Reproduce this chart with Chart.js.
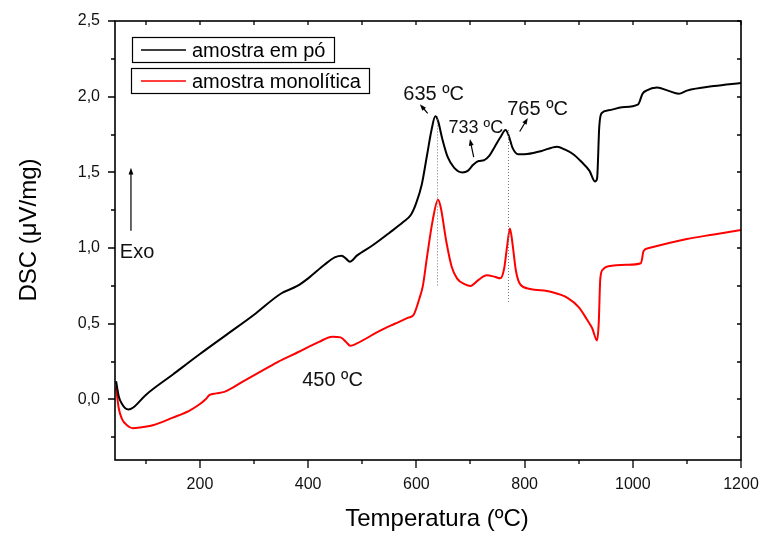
<!DOCTYPE html>
<html>
<head>
<meta charset="utf-8">
<script src="https://cdn.jsdelivr.net/npm/chart.js@4.4.0/dist/chart.umd.min.js"></script>
<style>
  html, body { margin: 0; padding: 0; background: #fff; }
  #wrap { width: 761px; height: 533px; }
</style>
</head>
<body>
<div id="wrap"><canvas id="dscChart" width="761" height="533"></canvas></div>
<script>
// DSC curves (temperature in ºC, signal in µV/mg)
const tempPo = [45, 50, 56, 62, 68, 76, 100, 150, 200, 250, 300, 350, 380, 400, 430, 450, 462, 470, 477,
  490, 520, 550, 575, 590, 600, 610, 620, 628, 635, 640, 648, 658, 670, 685, 695, 705, 715, 725, 735, 745,
  755, 765, 770, 778, 788, 800, 830, 860, 875, 890, 905, 920, 930, 934, 938, 942, 955, 980, 1010, 1018,
  1025, 1045, 1065, 1085, 1100, 1150, 1200];
const dscPo = [0.12, 0.02, -0.03, -0.058, -0.066, -0.055, 0.03, 0.165, 0.30, 0.43, 0.56, 0.70, 0.75, 0.80,
  0.89, 0.94, 0.95, 0.93, 0.91, 0.95, 1.02, 1.10, 1.17, 1.22, 1.30, 1.42, 1.62, 1.78, 1.87, 1.84, 1.72,
  1.60, 1.53, 1.50, 1.51, 1.55, 1.575, 1.58, 1.61, 1.67, 1.73, 1.78, 1.75, 1.66, 1.62, 1.62, 1.64, 1.67,
  1.65, 1.62, 1.57, 1.51, 1.44, 1.46, 1.80, 1.89, 1.91, 1.93, 1.95, 2.02, 2.04, 2.06, 2.04, 2.02, 2.04,
  2.07, 2.09];

const tempMono = [45, 50, 56, 65, 76, 90, 113, 150, 180, 200, 210, 218, 230, 245, 280, 320, 345, 380, 420,
  445, 460, 470, 478, 490, 533, 560, 585, 595, 605, 612, 620, 630, 640, 645, 655, 665, 675, 690, 700, 715,
  730, 745, 755, 762, 768, 773, 778, 784, 792, 810, 850, 880, 900, 915, 925, 934, 937, 940, 945, 955, 990,
  1015, 1020, 1030, 1100, 1150, 1200];
const dscMono = [0.08, -0.06, -0.13, -0.17, -0.19, -0.185, -0.17, -0.12, -0.075, -0.03, 0.00, 0.03, 0.04,
  0.05, 0.12, 0.20, 0.25, 0.31, 0.38, 0.415, 0.41, 0.38, 0.355, 0.37, 0.455, 0.50, 0.54, 0.56, 0.66, 0.75,
  0.95, 1.18, 1.32, 1.27, 1.05, 0.88, 0.80, 0.76, 0.75, 0.79, 0.82, 0.81, 0.80, 0.86, 1.02, 1.13, 1.02,
  0.85, 0.76, 0.73, 0.71, 0.67, 0.61, 0.53, 0.47, 0.39, 0.50, 0.80, 0.86, 0.88, 0.89, 0.90, 0.98, 1.00,
  1.06, 1.09, 1.12];

const seriesNames = ["amostra em pó", "amostra monolítica"];
const seriesColors = ["#000000", "#ff0000"];
const xTickValues = [200, 400, 600, 800, 1000, 1200];
const yTickValues = [0, 0.5, 1.0, 1.5, 2.0, 2.5];

// peak labels and arrows, in data coordinates
const notes = [
  { text: "635 ºC", x: 632, y: 1.98, size: 20 },
  { text: "733 ºC", x: 710, y: 1.76, size: 18 },
  { text: "765 ºC", x: 824, y: 1.88, size: 20 },
  { text: "450 ºC", x: 445, y: 0.092, size: 20 }
];
const arrows = [
  { from: [621, 1.89], to: [606.5, 1.95] },
  { from: [706, 1.60], to: [699, 1.72] },
  { from: [791, 1.77], to: [806, 1.86] },
  { from: [72.5, 1.115], to: [72.5, 1.53] }
];
const peakLines = [
  { x: 639, top: 1.87, bottom: 0.745 },
  { x: 769, top: 1.78, bottom: 0.63 }
];

const font = "Arial, 'Liberation Sans', sans-serif";

function toPoints(xs, ys) {
  return xs.map((t, i) => ({ x: t, y: ys[i] }));
}

function drawArrow(ctx, x1, y1, x2, y2) {
  const ang = Math.atan2(y2 - y1, x2 - x1);
  const head = 7;
  ctx.beginPath();
  ctx.moveTo(x1, y1);
  ctx.lineTo(x2 - Math.cos(ang) * head * 0.8, y2 - Math.sin(ang) * head * 0.8);
  ctx.stroke();
  ctx.beginPath();
  ctx.moveTo(x2, y2);
  ctx.lineTo(x2 - head * Math.cos(ang - 0.35), y2 - head * Math.sin(ang - 0.35));
  ctx.lineTo(x2 - head * Math.cos(ang + 0.35), y2 - head * Math.sin(ang + 0.35));
  ctx.closePath();
  ctx.fill();
}

const extras = {
  id: "extras",
  afterDatasetsDraw(chart) {
    const { ctx, scales: { x, y } } = chart;
    ctx.save();

    // dotted guide lines under the peaks
    ctx.strokeStyle = "#777";
    ctx.lineWidth = 1;
    ctx.setLineDash([1, 2]);
    peakLines.forEach(p => {
      const px = Math.round(x.getPixelForValue(p.x)) + 0.5;
      ctx.beginPath();
      ctx.moveTo(px, y.getPixelForValue(p.top));
      ctx.lineTo(px, y.getPixelForValue(p.bottom));
      ctx.stroke();
    });
    ctx.setLineDash([]);

    // peak labels
    ctx.fillStyle = "#111";
    ctx.textAlign = "center";
    ctx.textBaseline = "alphabetic";
    notes.forEach(n => {
      ctx.font = n.size + "px " + font;
      ctx.fillText(n.text, x.getPixelForValue(n.x), y.getPixelForValue(n.y));
    });
    ctx.textAlign = "left";
    ctx.font = "20px " + font;
    ctx.fillText("Exo", x.getPixelForValue(52), y.getPixelForValue(0.937));

    // arrows
    ctx.strokeStyle = "#000";
    ctx.fillStyle = "#000";
    ctx.lineWidth = 1.2;
    arrows.forEach(a => {
      drawArrow(ctx,
        x.getPixelForValue(a.from[0]), y.getPixelForValue(a.from[1]),
        x.getPixelForValue(a.to[0]), y.getPixelForValue(a.to[1]));
    });
    ctx.restore();
  },
  afterDraw(chart) {
    const { ctx, chartArea: a, scales: { x, y } } = chart;
    ctx.save();
    ctx.strokeStyle = "#000";

    // frame
    ctx.lineWidth = 1.6;
    ctx.strokeRect(a.left, a.top, a.right - a.left, a.bottom - a.top);

    // ticks: outward on bottom/left, inward on top/right
    ctx.lineWidth = 1.3;
    ctx.beginPath();
    for (let v = 100; v <= 1200; v += 100) {
      const px = Math.round(x.getPixelForValue(v));
      const len = v % 200 === 0 ? 8 : 4;
      ctx.moveTo(px, a.bottom); ctx.lineTo(px, a.bottom + len);
      ctx.moveTo(px, a.top); ctx.lineTo(px, a.top + 4);
    }
    for (let i = -1; i <= 10; i++) {
      const v = i * 0.25;
      const py = Math.round(y.getPixelForValue(v));
      const len = i % 2 === 0 ? 7 : 4;
      ctx.moveTo(a.left, py); ctx.lineTo(a.left - len, py);
      ctx.moveTo(a.right, py); ctx.lineTo(a.right - 4, py);
    }
    ctx.stroke();

    // legend boxes
    ctx.lineWidth = 1.2;
    ctx.font = "20px " + font;
    ctx.textAlign = "left";
    ctx.textBaseline = "middle";
    const boxes = [
      { x: 132, y: 37, w: 202, h: 25, ly: 50 },
      { x: 131, y: 68, w: 238, h: 25, ly: 81 }
    ];
    boxes.forEach((b, i) => {
      ctx.strokeStyle = "#000";
      ctx.strokeRect(b.x + 0.5, b.y + 0.5, b.w, b.h);
      ctx.strokeStyle = seriesColors[i];
      ctx.lineWidth = 1.5;
      ctx.beginPath();
      ctx.moveTo(141, b.ly);
      ctx.lineTo(186, b.ly);
      ctx.stroke();
      ctx.lineWidth = 1.2;
      ctx.fillStyle = "#000";
      ctx.fillText(seriesNames[i], 192, b.ly + 1);
    });

    // axis titles
    ctx.font = "24px " + font;
    ctx.textAlign = "center";
    ctx.textBaseline = "middle";
    ctx.fillText("Temperatura (ºC)", 437, 519);
    ctx.translate(29, 230);
    ctx.rotate(-Math.PI / 2);
    ctx.fillText("DSC (μV/mg)", 0, 0);
    ctx.restore();
  }
};

new Chart(document.getElementById("dscChart"), {
  type: "line",
  data: {
    datasets: [
      {
        label: seriesNames[0],
        data: toPoints(tempPo, dscPo),
        borderColor: seriesColors[0],
        borderWidth: 2,
        pointRadius: 0,
        cubicInterpolationMode: "monotone",
        fill: false
      },
      {
        label: seriesNames[1],
        data: toPoints(tempMono, dscMono),
        borderColor: seriesColors[1],
        borderWidth: 2,
        pointRadius: 0,
        cubicInterpolationMode: "monotone",
        fill: false
      }
    ]
  },
  options: {
    responsive: false,
    animation: false,
    layout: { padding: { left: 0, top: 21, right: 20, bottom: 0 } },
    plugins: {
      legend: { display: false },
      tooltip: { enabled: false }
    },
    scales: {
      x: {
        type: "linear",
        min: 43,
        max: 1200,
        grid: { display: false },
        border: { display: false },
        afterBuildTicks: s => { s.ticks = xTickValues.map(v => ({ value: v })); },
        afterFit: s => { s.height = 73; s.paddingLeft = 0; s.paddingRight = 0; },
        ticks: {
          color: "#111",
          padding: 7,
          maxRotation: 0,
          font: { family: font, size: 16 },
          callback: v => String(v)
        }
      },
      y: {
        min: -0.4,
        max: 2.5,
        grid: { display: false },
        border: { display: false },
        afterBuildTicks: s => { s.ticks = yTickValues.map(v => ({ value: v })); },
        afterFit: s => { s.width = 115; s.paddingTop = 0; s.paddingBottom = 0; },
        ticks: {
          color: "#111",
          padding: 7,
          font: { family: font, size: 16 },
          callback: v => v.toFixed(1).replace(".", ",")
        }
      }
    }
  },
  plugins: [extras]
});
</script>
</body>
</html>
